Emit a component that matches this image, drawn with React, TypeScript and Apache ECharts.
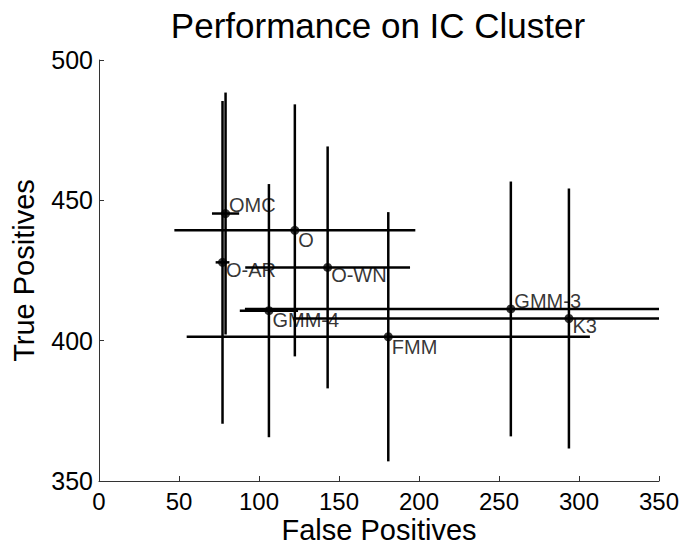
import React, { useEffect, useRef } from "react";
import * as echarts from "echarts";

const names = ["OMC", "O", "O-AR", "O-WN", "GMM-4", "GMM-3", "K3", "FMM"];
const falsePos = [79.1, 122.4, 77.2, 142.9, 106.2, 257.4, 293.7, 180.8];
const truePos = [445.3, 439.3, 427.9, 426.1, 410.7, 411.3, 407.9, 401.4];
const falsePosErr = [8.5, 75.3, 4.3, 51.5, 18.2, 166.2, 172.3, 126];
const truePosErr = [43.1, 44.9, 57.5, 43.1, 45.1, 45.4, 46.3, 44.4];
const labelDy = [-9, 10, 8, 8, 9, -8, 8, 10];

const xTicks = [0, 50, 100, 150, 200, 250, 300, 350];
const yTicks = [350, 400, 450, 500];

const FONT = "Liberation Sans, Arial, Helvetica, sans-serif";

export default function App() {
  const ref = useRef<HTMLDivElement>(null);
  useEffect(() => {
    if (!ref.current) return;
    const chart = echarts.init(ref.current, undefined, { renderer: "svg" });
    const errData = names.map((n, i) => [
      falsePos[i],
      truePos[i],
      falsePosErr[i],
      truePosErr[i],
    ]);
    chart.setOption({
      animation: false,
      backgroundColor: "#ffffff",
      title: {
        text: "Performance on IC Cluster",
        left: 373,
        top: 3,
        textAlign: "center",
        textStyle: {
          fontFamily: FONT,
          fontSize: 35,
          fontWeight: "normal",
          color: "#000",
        },
      },
      grid: {
        left: 99,
        right: 26,
        top: 60,
        bottom: 63,
        containLabel: false,
        outerBoundsMode: "none",
      },
      xAxis: {
        type: "value",
        min: xTicks[0],
        max: xTicks[xTicks.length - 1],
        interval: 50,
        name: "False Positives",
        nameLocation: "middle",
        nameGap: 34,
        nameMoveOverlap: false,
        nameTextStyle: { fontFamily: FONT, fontSize: 29, color: "#000" },
        axisLine: { show: true, onZero: false, lineStyle: { color: "#333", width: 1 } },
        axisTick: { show: true, inside: true, length: 5, lineStyle: { color: "#333" } },
        axisLabel: { fontFamily: FONT, fontSize: 24, color: "#000", margin: 8 },
        splitLine: { show: false },
      },
      yAxis: {
        type: "value",
        min: yTicks[0],
        max: yTicks[yTicks.length - 1],
        interval: 50,
        name: "True Positives",
        nameLocation: "middle",
        nameGap: 61,
        nameMoveOverlap: false,
        nameRotate: 90,
        nameTextStyle: { fontFamily: FONT, fontSize: 29, color: "#000" },
        axisLine: { show: true, onZero: false, lineStyle: { color: "#333", width: 1 } },
        axisTick: { show: true, inside: true, length: 5, lineStyle: { color: "#333" } },
        axisLabel: { fontFamily: FONT, fontSize: 25, color: "#000", margin: 6 },
        splitLine: { show: false },
      },
      series: [
        {
          type: "custom",
          clip: true,
          data: errData,
          renderItem: (params: any, api: any) => {
            const x = api.value(0);
            const y = api.value(1);
            const ex = api.value(2);
            const ey = api.value(3);
            const h0 = api.coord([x - ex, y]);
            const h1 = api.coord([x + ex, y]);
            const v0 = api.coord([x, y - ey]);
            const v1 = api.coord([x, y + ey]);
            const style = { stroke: "#000", lineWidth: 2.5 };
            return {
              type: "group",
              children: [
                { type: "line", shape: { x1: h0[0], y1: h0[1], x2: h1[0], y2: h1[1] }, style },
                { type: "line", shape: { x1: v0[0], y1: v0[1], x2: v1[0], y2: v1[1] }, style },
              ],
            };
          },
          z: 1,
        },
        {
          type: "scatter",
          symbol: "circle",
          symbolSize: 9,
          itemStyle: { color: "#000" },
          data: names.map((n, i) => ({
            name: n,
            value: [falsePos[i], truePos[i]],
            label: {
              show: true,
              formatter: n,
              position: "right",
              distance: 0,
              offset: [-1, labelDy[i]],
              fontFamily: FONT,
              fontSize: 20,
              color: "#000",
              textBorderWidth: 0,
            },
          })),
          z: 2,
        },
      ],
    });
    return () => chart.dispose();
  }, []);
  return (
    <div
      ref={ref}
      style={{ position: "fixed", left: 0, top: 0, width: 685, height: 544 }}
    />
  );
}
